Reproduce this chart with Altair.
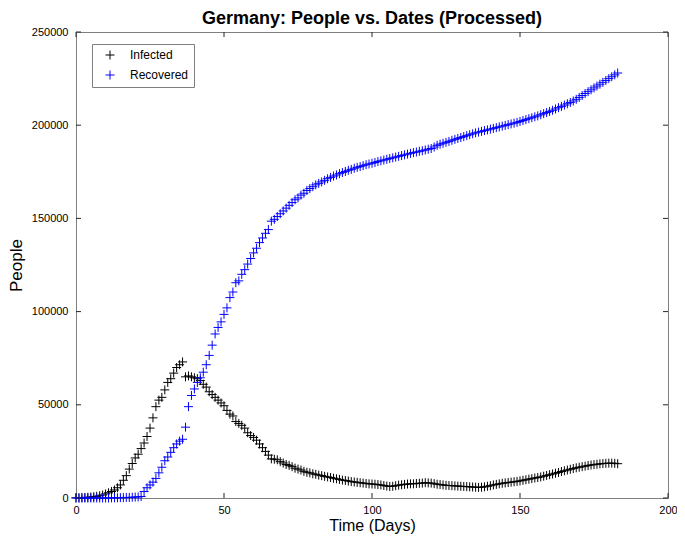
import altair as alt
import pandas as pd

# ---- data (people in thousands, one value per day) ----
days = list(range(184))

infected_k = [
    0.1, 0.1, 0.2, 0.3, 0.4, 0.5, 0.7, 0.9, 1.2, 1.6,
    2.2, 2.8, 3.5, 4.3, 5.5, 7.0, 9.5, 12.0, 15.5, 18.5,
    21.5, 23.5, 26.5, 29.5, 33.0, 37.5, 43.0, 49.0, 52.5, 54.0,
    58.0, 62.0, 64.0, 67.0, 70.0, 71.5, 73.0, 65.0, 65.5, 65.0,
    64.5, 64.0, 63.0, 61.0, 59.5, 57.0, 55.5, 54.0, 52.5, 51.0,
    49.5, 47.0, 45.0, 44.0, 41.0, 40.0, 39.0, 37.5, 35.0, 33.5,
    32.5, 31.0, 29.0, 27.0, 25.0, 23.0, 21.0, 20.8, 20.5, 19.5,
    18.8, 18.0, 17.5, 16.8, 16.0, 15.5, 15.0, 14.3, 13.8, 13.5,
    13.0, 12.7, 12.3, 12.0, 11.6, 11.3, 11.0, 10.6, 10.3, 10.0,
    9.6, 9.4, 9.1, 8.8, 8.6, 8.4, 8.2, 8.0, 7.8, 7.6,
    7.5, 7.4, 7.2, 7.0, 6.7, 6.4, 6.2, 6.3, 6.6, 6.9,
    7.1, 7.3, 7.5, 7.6, 7.6, 7.8, 7.9, 8.0, 8.2, 8.1,
    8.0, 7.7, 7.4, 7.2, 7.0, 6.8, 6.7, 6.6, 6.5, 6.4,
    6.3, 6.2, 6.1, 6.0, 5.9, 5.8, 5.7, 5.8, 6.0, 6.3,
    6.6, 7.0, 7.3, 7.6, 7.9, 8.1, 8.3, 8.5, 8.7, 8.9,
    9.2, 9.5, 9.8, 10.1, 10.4, 10.7, 11.0, 11.3, 11.7, 12.1,
    12.5, 12.9, 13.3, 13.7, 14.2, 14.6, 15.0, 15.4, 15.8, 16.2,
    16.5, 16.8, 17.1, 17.4, 17.7, 17.9, 18.1, 18.3, 18.5, 18.6,
    18.7, 18.7, 18.6, 18.4,
]

recovered_k = [
    0.0, 0.0, 0.0, 0.0, 0.0, 0.0, 0.0, 0.0, 0.0, 0.0,
    0.0, 0.0, 0.1, 0.1, 0.1, 0.2, 0.2, 0.3, 0.3, 0.4,
    0.5, 0.6, 0.8, 3.5, 5.5, 7.0, 8.5, 10.5, 13.5, 16.5,
    20.0, 22.0, 24.5, 27.0, 29.0, 30.5, 31.5, 38.0, 49.0, 55.0,
    58.5, 62.0, 64.5, 67.5, 71.5, 76.5, 82.0, 88.0, 91.5, 94.5,
    98.5, 102.0, 107.5, 110.5, 115.5, 116.5, 120.0, 122.5, 125.5, 128.5,
    131.5, 134.0, 137.0, 139.5, 142.0, 144.0, 148.5, 149.5, 151.0, 152.5,
    154.0, 155.5, 157.0, 158.5, 160.0, 161.0, 162.5, 163.5, 165.0, 166.0,
    167.0, 168.0, 168.8, 169.6, 170.4, 171.3, 172.0, 172.7, 173.3, 174.0,
    174.6, 175.2, 175.8, 176.3, 176.9, 177.4, 177.8, 178.3, 178.8, 179.2,
    179.6, 180.0, 180.5, 180.9, 181.3, 181.7, 182.1, 182.5, 182.9, 183.3,
    183.7, 184.1, 184.5, 184.9, 185.3, 185.6, 186.0, 186.3, 186.7, 187.1,
    187.5, 188.3, 189.2, 189.8, 190.3, 190.8, 191.3, 191.9, 192.4, 192.9,
    193.4, 193.9, 194.4, 194.9, 195.4, 195.9, 196.3, 196.7, 197.1, 197.5,
    197.9, 198.3, 198.7, 199.1, 199.5, 199.9, 200.3, 200.7, 201.1, 201.5,
    202.0, 202.5, 203.0, 203.5, 204.0, 204.5, 205.0, 205.6, 206.2, 206.8,
    207.4, 208.0, 208.7, 209.4, 210.1, 210.8, 211.5, 212.2, 213.0, 213.9,
    214.9, 215.9, 217.0, 218.0, 219.0, 220.0, 221.0, 222.0, 223.0, 224.0,
    225.0, 226.0, 227.0, 228.0,
]

series_names = ["Infected", "Recovered"]
series_colors = ["#000000", "#0000FF"]
x_ticks = [0, 50, 100, 150, 200]
y_ticks = [0, 50000, 100000, 150000, 200000, 250000]

df = pd.DataFrame({
    "day": days + days,
    "people": [v * 1000 for v in infected_k] + [v * 1000 for v in recovered_k],
    "series": [series_names[0]] * len(days) + [series_names[1]] * len(days),
})
xt = pd.DataFrame({"day": x_ticks})
yt = pd.DataFrame({"people": y_ticks})

W, H = 592, 466
FONT = "Liberation Sans"
PLUS = "M-1,0L1,0M0,-1L0,1"
TICK = "#262626"
TL = 5

xscale = alt.Scale(domain=[0, 200], nice=False, zero=False)
yscale = alt.Scale(domain=[0, 250000], nice=False)

xaxis = alt.Axis(
    title="Time (Days)", values=x_ticks, tickSize=0, domain=False, grid=False,
    labelPadding=6, titlePadding=2, labelFontSize=11, titleFontSize=16,
    labelFont=FONT, titleFont=FONT, titleFontWeight="normal",
    labelColor="#000000", titleColor="#000000", labelFlush=False)
yaxis = alt.Axis(
    title="People", values=y_ticks, format="d", tickSize=0, domain=False, grid=False,
    labelPadding=8, titlePadding=6, labelFontSize=11, titleFontSize=17,
    labelFont=FONT, titleFont=FONT, titleFontWeight="normal",
    labelColor="#000000", titleColor="#000000", labelFlush=False)

points = alt.Chart(df).mark_point(
    shape=PLUS, filled=False, size=81, strokeWidth=1, opacity=1
).encode(
    x=alt.X("day:Q", scale=xscale, axis=xaxis),
    y=alt.Y("people:Q", scale=yscale, axis=yaxis),
    color=alt.Color("series:N", scale=alt.Scale(domain=series_names, range=series_colors),
                    legend=alt.Legend(
                        title=None, orient="none", legendX=16, legendY=12,
                        symbolType=PLUS, symbolSize=81, symbolStrokeWidth=1,
                        symbolOffset=7, labelOffset=14, rowPadding=6, padding=5,
                        labelFont=FONT, labelFontSize=12, labelColor="#000000",
                        fillColor="#FFFFFF", strokeColor="#7f7f7f")),
)

xb = alt.Chart(xt).mark_rule(color=TICK, strokeWidth=1).encode(
    x=alt.X("day:Q", scale=xscale, axis=xaxis), y=alt.value(H), y2=alt.value(H - TL))
xtop = alt.Chart(xt).mark_rule(color=TICK, strokeWidth=1).encode(
    x=alt.X("day:Q", scale=xscale, axis=xaxis), y=alt.value(0), y2=alt.value(TL))
yl = alt.Chart(yt).mark_rule(color=TICK, strokeWidth=1).encode(
    y=alt.Y("people:Q", scale=yscale, axis=yaxis), x=alt.value(0), x2=alt.value(TL))
yr = alt.Chart(yt).mark_rule(color=TICK, strokeWidth=1).encode(
    y=alt.Y("people:Q", scale=yscale, axis=yaxis), x=alt.value(W), x2=alt.value(W - TL))

chart = alt.layer(points, xb, xtop, yl, yr).properties(
    width=W, height=H,
    title=alt.TitleParams("Germany: People vs. Dates (Processed)", font=FONT, fontSize=18,
                          fontWeight="bold", anchor="middle", offset=0, dy=2, frame="group",
                          color="#000000"),
    autosize=alt.AutoSizeParams(type="none"),
    padding={"left": 68, "top": 24, "right": 9, "bottom": 37},
).configure_view(stroke="#7f7f7f", strokeWidth=1)

chart.save("out.html", embed_options={"renderer": "svg", "actions": False})
